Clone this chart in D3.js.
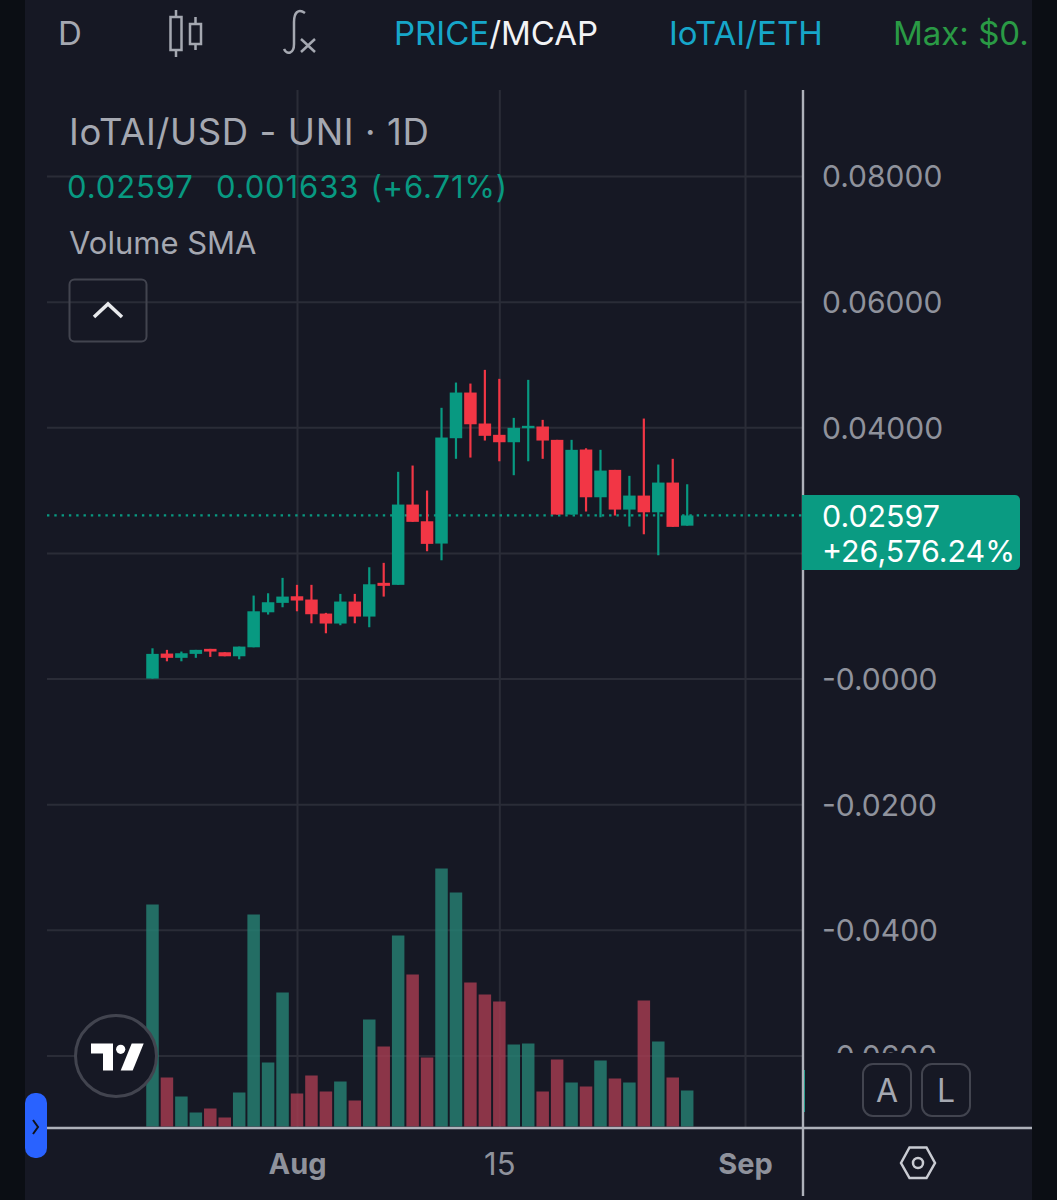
<!DOCTYPE html>
<html>
<head>
<meta charset="utf-8">
<title>IoTAI/USD</title>
<script src="https://cdn.jsdelivr.net/npm/d3@7"></script>
<style>
  html, body { margin: 0; background: #0b0e14; }
  svg { display: block; font-family: Inter, "Noto Sans", sans-serif; }
</style>
</head>
<body>
<svg id="chart" width="1057" height="1200"></svg>
<script>
// One candle per day, starting at the first date below
const firstDay = Date.UTC(2024, 6, 22);
const opens = [0.00000, 0.00398, 0.00330, 0.00393, 0.00473, 0.00419, 0.00355, 0.00498, 0.01055, 0.01205,
  0.01310, 0.01258, 0.01035, 0.00876, 0.01226, 0.00987, 0.01524, 0.01492, 0.02770, 0.02504,
  0.02149, 0.03826, 0.04553, 0.04060, 0.03880, 0.03762, 0.03985, 0.04012, 0.03800, 0.02611,
  0.03646, 0.02886, 0.03322, 0.02690, 0.02913, 0.02647, 0.03120, 0.02434];
const highs = [0.00482, 0.00457, 0.00430, 0.00457, 0.00473, 0.00419, 0.00509, 0.01321, 0.01358, 0.01603,
  0.01492, 0.01492, 0.01046, 0.01348, 0.01348, 0.01772, 0.01842, 0.03291, 0.03391, 0.02993,
  0.04310, 0.04712, 0.04696, 0.04914, 0.04771, 0.04150, 0.04755, 0.04118, 0.03800, 0.03800,
  0.03666, 0.03641, 0.03322, 0.03227, 0.04139, 0.03407, 0.03498, 0.03093];
const lows = [0.00000, 0.00275, 0.00275, 0.00330, 0.00345, 0.00355, 0.00307, 0.00498, 0.01019, 0.01135,
  0.01071, 0.00880, 0.00721, 0.00849, 0.00880, 0.00817, 0.01305, 0.01492, 0.02495, 0.02027,
  0.01883, 0.03498, 0.03518, 0.03789, 0.03459, 0.03237, 0.03459, 0.03498, 0.02611, 0.02611,
  0.02659, 0.02568, 0.02595, 0.02420, 0.02297, 0.01963, 0.02415, 0.02434];
const closes = [0.00393, 0.00330, 0.00403, 0.00457, 0.00430, 0.00355, 0.00509, 0.01071, 0.01215, 0.01305,
  0.01242, 0.01024, 0.00876, 0.01226, 0.00987, 0.01501, 0.01476, 0.02770, 0.02495, 0.02144,
  0.03837, 0.04553, 0.04048, 0.03864, 0.03762, 0.03991, 0.04023, 0.03789, 0.02611, 0.03641,
  0.02886, 0.03311, 0.02690, 0.02913, 0.02647, 0.03120, 0.02415, 0.02597];
// Volume has no axis in the picture, so these are relative heights
const volumes = [222, 49, 30, 14, 18, 9, 34, 212, 64, 134, 33, 51, 35, 45, 26, 107, 80, 191, 152, 69,
  258, 234, 144, 132, 125, 82, 83, 35, 67, 44, 40, 66, 48, 44, 126, 85, 49, 36];

const priceTicks = [0.08, 0.06, 0.04, 0.02, 0, -0.02, -0.04, -0.06];
// the 0.02 label sits under the last price tag in the picture
const priceTickLabels = ['0.08000', '0.06000', '0.04000', '', '-0.0000', '-0.0200', '-0.0400', '-0.0600'];
const dateTicks = [Date.UTC(2024, 7, 1), Date.UTC(2024, 7, 15), Date.UTC(2024, 8, 1)];
const dateTickLabels = ['Aug', '15', 'Sep'];
const lastPrice = 0.02597;

const UP = '#089981', DOWN = '#f23645';
const VOL_UP = '#268073', VOL_DOWN = '#a53c50';
const GRID = '#2a2c37', MUTED = '#a5a8b1', AXIS = '#aeb1ba', PANEL = '#161824', OUTLINE = '#42444f';

const svg = d3.select('#chart');
const left = 47, right = 803, axisY = 1128;

const x = d3.scaleUtc().domain([dateTicks[0], dateTicks[2]]).range([297, 745]);
const y = d3.scaleLinear().domain([-0.06, 0.08]).range([1055.5, 176]);
const yVol = d3.scaleLinear().domain([0, 258]).range([1126.5, 868.5]);
const dayX = i => x(firstDay + i * 864e5);
const barW = 12.5;

svg.append('rect').attr('x', 25).attr('width', 1007).attr('height', 1200).attr('fill', PANEL);

const defs = svg.append('defs');
defs.append('clipPath').attr('id', 'priceLabels').append('rect').attr('x', 0).attr('y', 90).attr('width', 229).attr('height', 963);
defs.append('clipPath').attr('id', 'topClip').append('rect').attr('x', 25).attr('y', 0).attr('width', 1007).attr('height', 90);

// Grid
svg.append('g').attr('transform', `translate(${left},0)`)
  .call(d3.axisRight(y).tickValues(priceTicks).tickSize(right - left).tickFormat(''))
  .call(g => g.select('.domain').remove())
  .call(g => g.selectAll('line').attr('stroke', GRID).attr('stroke-width', 2));
svg.append('g').attr('transform', `translate(0,${axisY})`)
  .call(d3.axisTop(x).tickValues(dateTicks).tickSize(axisY - 90).tickFormat(''))
  .call(g => g.select('.domain').remove())
  .call(g => g.selectAll('line').attr('stroke', GRID).attr('stroke-width', 2));

// Volume
svg.append('g').selectAll('rect').data(volumes).join('rect')
  .attr('x', (d, i) => dayX(i) - barW / 2)
  .attr('y', d => yVol(d))
  .attr('width', barW)
  .attr('height', d => yVol(0) - yVol(d))
  .attr('fill', (d, i) => closes[i] >= opens[i] ? VOL_UP : VOL_DOWN)
  .attr('fill-opacity', 0.82);

// Last price line
svg.append('line')
  .attr('x1', left).attr('x2', right).attr('y1', y(lastPrice)).attr('y2', y(lastPrice))
  .attr('stroke', UP).attr('stroke-width', 2.4).attr('stroke-dasharray', '2.4 4.9');

// Candles
const candles = svg.append('g').selectAll('g').data(opens).join('g')
  .attr('fill', (d, i) => closes[i] >= opens[i] ? UP : DOWN)
  .attr('stroke', (d, i) => closes[i] >= opens[i] ? UP : DOWN);
candles.append('line')
  .attr('x1', (d, i) => dayX(i)).attr('x2', (d, i) => dayX(i))
  .attr('y1', (d, i) => y(highs[i])).attr('y2', (d, i) => y(lows[i]))
  .attr('stroke-width', 2.2);
candles.append('rect')
  .attr('x', (d, i) => dayX(i) - barW / 2)
  .attr('y', (d, i) => y(Math.max(opens[i], closes[i])))
  .attr('width', barW)
  .attr('height', (d, i) => Math.abs(y(opens[i]) - y(closes[i])))
  .attr('stroke', 'none');

// Price scale
svg.append('g').attr('transform', `translate(${right},0)`)
  .append('g').attr('clip-path', 'url(#priceLabels)')
  .call(d3.axisRight(y).tickValues(priceTicks).tickSize(0).tickPadding(19).tickFormat((d, i) => priceTickLabels[i]))
  .attr('font-family', null)
  .call(g => g.select('.domain').remove())
  .call(g => g.selectAll('text').attr('font-size', 30).attr('dy', '0.36em').attr('fill', '#8f929c'));

// Volume tag peeking out behind the scale border
svg.append('rect').attr('x', 802).attr('y', 1070).attr('width', 3).attr('height', 42).attr('fill', UP);

svg.append('line').attr('x1', right).attr('x2', right).attr('y1', 90).attr('y2', 1196).attr('stroke', AXIS).attr('stroke-width', 2.4);
svg.append('line').attr('x1', left).attr('x2', 1032).attr('y1', axisY).attr('y2', axisY).attr('stroke', AXIS).attr('stroke-width', 2.4);

// Time axis labels
svg.append('g').attr('transform', `translate(0,${axisY})`)
  .call(d3.axisBottom(x).tickValues(dateTicks).tickSize(0).tickPadding(25).tickFormat((d, i) => dateTickLabels[i]))
  .attr('font-family', null)
  .call(g => g.select('.domain').remove())
  .call(g => g.selectAll('text').attr('fill', '#8f929c')
    .attr('font-size', (d, i) => i === 1 ? 31 : 29)
    .attr('font-weight', (d, i) => i === 1 ? 400 : 700));

// Last price tag
svg.append('path')
  .attr('d', 'M802,495 H1015 a5,5 0 0 1 5,5 V565 a5,5 0 0 1 -5,5 H802 Z')
  .attr('fill', '#0a9b82');
const tag = svg.append('g').attr('fill', '#fff').attr('font-size', 30.4);
tag.append('text').attr('x', 822).attr('y', 527).text('0.02597');
tag.append('text').attr('x', 822).attr('y', 562).text('+26,576.24%');

// Legend
svg.append('text').attr('x', 69).attr('y', 145).attr('font-size', 36.5).attr('letter-spacing', 0.6).attr('fill', MUTED).text('IoTAI/USD - UNI · 1D');
svg.append('text').attr('x', 67).attr('y', 198).attr('font-size', 31).attr('letter-spacing', 0.9).attr('word-spacing', 1.5).attr('fill', UP)
  .attr('xml:space', 'preserve').text('0.02597  0.001633 (+6.71%)');
svg.append('text').attr('x', 69).attr('y', 254).attr('font-size', 31).attr('fill', MUTED).text('Volume SMA');
svg.append('rect').attr('x', 69.5).attr('y', 279.5).attr('width', 77).attr('height', 62).attr('rx', 5)
  .attr('fill', 'none').attr('stroke', OUTLINE).attr('stroke-width', 2);
svg.append('path').attr('d', 'M94,317 L108,304 L122,317').attr('fill', 'none').attr('stroke', '#e8e9ec').attr('stroke-width', 3.5);

// Toolbar
const bar = svg.append('g').attr('clip-path', 'url(#topClip)').attr('font-size', 33);
bar.append('text').attr('x', 58).attr('y', 45).attr('fill', MUTED).text('D');
const barText = bar.append('text').attr('x', 394).attr('y', 45);
barText.append('tspan').attr('fill', '#16a6c9').text('PRICE');
barText.append('tspan').attr('fill', '#f2f3f5').text('/MCAP');
bar.append('text').attr('x', 669).attr('y', 45).attr('fill', '#16a6c9').text('IoTAI/ETH');
bar.append('text').attr('x', 893).attr('y', 45).attr('fill', '#2a9a45').text('Max: $0.');

const icons = svg.append('g').attr('fill', 'none').attr('stroke', MUTED).attr('stroke-width', 2.5);
icons.append('path').attr('d', 'M176,10 V17 M176,50 V57 M195.5,17 V24 M195.5,44 V50');
icons.append('rect').attr('x', 170.5).attr('y', 17).attr('width', 11).attr('height', 33);
icons.append('rect').attr('x', 190).attr('y', 24).attr('width', 11).attr('height', 20);
icons.append('path').attr('d', 'M305,13 C298,8 294,13 294,22 V44 C294,54 287,55 284,49');
icons.append('path').attr('d', 'M301,39 L315,52 M315,39 L301,52');

// Logo
svg.append('circle').attr('cx', 116).attr('cy', 1056).attr('r', 40.5)
  .attr('fill', PANEL).attr('stroke', OUTLINE).attr('stroke-width', 3);
const logo = svg.append('g').attr('fill', '#fff');
logo.append('path').attr('d', 'M91,1043.5 H113 V1070.5 H103 V1053.5 H91 Z');
logo.append('circle').attr('cx', 120.7).attr('cy', 1049.3).attr('r', 4.6);
logo.append('path').attr('d', 'M131.7,1043.5 H143.7 L132.7,1070.5 H120.7 Z');

// Side handle
svg.append('rect').attr('x', 25).attr('y', 1093).attr('width', 22).attr('height', 65).attr('rx', 10).attr('fill', '#2962ff');
svg.append('path').attr('d', 'M33,1120 L38,1127 L33,1134').attr('fill', 'none').attr('stroke', '#10131c').attr('stroke-width', 2);

// A / L buttons and settings
[['A', 863], ['L', 922]].forEach(([label, bx]) => {
  svg.append('rect').attr('x', bx).attr('y', 1064).attr('width', 48).attr('height', 52).attr('rx', 10)
    .attr('fill', PANEL).attr('stroke', OUTLINE).attr('stroke-width', 2);
  svg.append('text').attr('x', bx + 24).attr('y', 1102).attr('text-anchor', 'middle')
    .attr('font-size', 32).attr('fill', MUTED).text(label);
});
svg.append('path').attr('d', 'M901,1163 L909.5,1147.5 H926.5 L935,1163 L926.5,1178 H909.5 Z')
  .attr('fill', 'none').attr('stroke', '#c9cbd2').attr('stroke-width', 2.5);
svg.append('circle').attr('cx', 918).attr('cy', 1163).attr('r', 5)
  .attr('fill', 'none').attr('stroke', '#c9cbd2').attr('stroke-width', 2.5);
</script>
</body>
</html>
